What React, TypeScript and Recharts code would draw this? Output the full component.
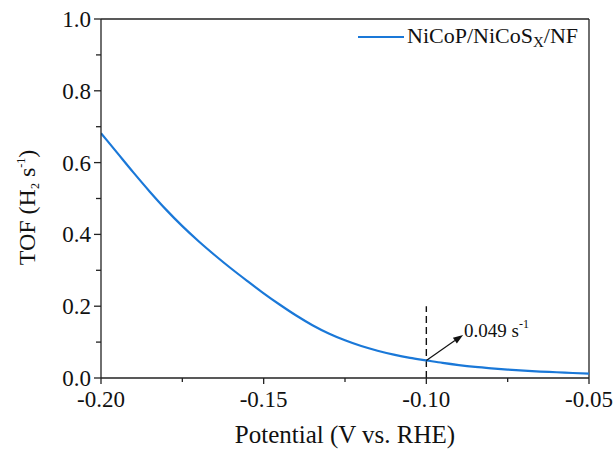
import React from 'react';
import { LineChart, Line, XAxis, YAxis, ReferenceLine, Legend } from 'recharts';

// ---- data ----
const potential = [
  -0.2, -0.195, -0.19, -0.185, -0.18, -0.175, -0.17, -0.165, -0.16, -0.155, -0.15,
  -0.145, -0.14, -0.135, -0.13, -0.125, -0.12, -0.115, -0.11, -0.105, -0.1,
  -0.095, -0.09, -0.085, -0.08, -0.075, -0.07, -0.065, -0.06, -0.055, -0.05,
];
const tof = [
  0.682, 0.627, 0.572, 0.519, 0.469, 0.423, 0.381, 0.342, 0.305, 0.27, 0.236,
  0.204, 0.174, 0.147, 0.124, 0.105, 0.089, 0.076, 0.065, 0.056, 0.049,
  0.042, 0.036, 0.031, 0.027, 0.0235, 0.0205, 0.018, 0.016, 0.014, 0.012,
];
const xTicks = [-0.2, -0.175, -0.15, -0.125, -0.1, -0.075, -0.05];
const xMajor = [-0.2, -0.15, -0.1, -0.05];
const yTicks = [0, 0.1, 0.2, 0.3, 0.4, 0.5, 0.6, 0.7, 0.8, 0.9, 1.0];
const yMajor = [0, 0.2, 0.4, 0.6, 0.8, 1.0];
const seriesName = 'NiCoP/NiCoSX/NF';
const markX = -0.1;
const markY = 0.049;
const markLineTop = 0.2;
const arrowTip = { x: -0.0887, y: 0.12 };
const markLabel = '0.049';

const data = potential.map((x, i) => ({ x, tof: tof[i] }));

const FONT = "'Liberation Serif', 'DejaVu Serif', serif";
const AXIS = '#222';
const BLUE = '#1a78d8';

const isIn = (arr: number[], v: number) => arr.some((m) => Math.abs(m - v) < 1e-9);

const XTick = (props: any) => {
  const { x, y, payload } = props;
  const major = isIn(xMajor, payload.value);
  return (
    <g>
      <line x1={x} x2={x} y1={y} y2={y + (major ? 6 : 4)} stroke={AXIS} strokeWidth={1.3} />
      {major && (
        <text x={x} y={y + 29} textAnchor="middle" style={{ fontFamily: FONT }} fontSize={23} fill="#111">
          {payload.value.toFixed(2)}
        </text>
      )}
    </g>
  );
};

const YTick = (props: any) => {
  const { x, y, payload } = props;
  const major = isIn(yMajor, payload.value);
  return (
    <g>
      <line x1={x} x2={x - (major ? 7 : 5)} y1={y} y2={y} stroke={AXIS} strokeWidth={1.3} />
      {major && (
        <text x={x - 10} y={y + 8} textAnchor="end" style={{ fontFamily: FONT }} fontSize={23} fill="#111">
          {payload.value.toFixed(1)}
        </text>
      )}
    </g>
  );
};

const YLabel = (props: any) => {
  const vb = props.viewBox;
  const cx = vb.x + 35;
  const cy = vb.y + vb.height / 2 + 9;
  return (
    <text
      x={cx}
      y={cy}
      transform={`rotate(-90, ${cx}, ${cy})`}
      textAnchor="middle"
      style={{ fontFamily: FONT }}
      fontSize={24}
      fill="#111"
    >
      <tspan>TOF (H</tspan>
      <tspan fontSize={12} dy={4}>2</tspan>
      <tspan dy={-4}> s</tspan>
      <tspan fontSize={12} dy={-10}>-1</tspan>
      <tspan dy={10}>)</tspan>
    </text>
  );
};

const XLabel = (props: any) => {
  const vb = props.viewBox;
  return (
    <text
      x={vb.x + vb.width / 2}
      y={vb.y + 65}
      textAnchor="middle"
      style={{ fontFamily: FONT }}
      fontSize={25}
      fill="#111"
    >
      Potential (V vs. RHE)
    </text>
  );
};

const ArrowShape = (props: any) => {
  const { x1, y1, x2, y2 } = props;
  const ang = Math.atan2(y2 - y1, x2 - x1);
  const len = 10;
  const hw = 3.5;
  const bx = x2 - len * Math.cos(ang);
  const by = y2 - len * Math.sin(ang);
  const px = -Math.sin(ang) * hw;
  const py = Math.cos(ang) * hw;
  return (
    <g>
      <line x1={x1} y1={y1} x2={bx} y2={by} stroke="#111" strokeWidth={1.2} />
      <polygon points={`${x2},${y2} ${bx + px},${by + py} ${bx - px},${by - py}`} fill="#111" />
      <text x={x2 + 1} y={y2 + 2} style={{ fontFamily: FONT }} fontSize={19} fill="#111">
        <tspan>{markLabel} s</tspan>
        <tspan fontSize={12} dy={-9}>-1</tspan>
      </text>
    </g>
  );
};

const LegendContent = () => (
  <div style={{ display: 'flex', alignItems: 'center', height: 26, lineHeight: '26px', fontFamily: FONT, fontSize: 22, color: '#111', whiteSpace: 'nowrap' }}>
    <svg width={46} height={4} style={{ marginRight: 3 }}>
      <line x1={0} x2={46} y1={2} y2={2} stroke={BLUE} strokeWidth={2.2} />
    </svg>
    <span>
      {seriesName.slice(0, 11)}
      <span style={{ fontSize: 15, position: 'relative', top: 4 }}>{seriesName.slice(11, 12)}</span>
      {seriesName.slice(12)}
    </span>
  </div>
);

export default function App() {
  return (
    <div style={{ position: 'absolute', left: 0, top: 0, background: '#fff', fontFamily: FONT }}>
      <LineChart width={614} height={450} data={data} margin={{ top: 19, right: 25, left: 0, bottom: 0 }}>
        <XAxis
          type="number"
          dataKey="x"
          domain={[-0.2, -0.05]}
          ticks={xTicks}
          interval={0}
          tickSize={0}
          tickMargin={0}
          tickLine={false}
          tick={<XTick />}
          axisLine={{ stroke: AXIS, strokeWidth: 1.3 }}
          height={72}
          allowDataOverflow
          label={<XLabel />}
        />
        <YAxis
          type="number"
          domain={[0, 1]}
          ticks={yTicks}
          interval={0}
          tickSize={0}
          tickMargin={0}
          tickLine={false}
          tick={<YTick />}
          axisLine={{ stroke: AXIS, strokeWidth: 1.3 }}
          width={101}
          allowDataOverflow
          label={<YLabel />}
        />
        <ReferenceLine y={1} stroke={AXIS} strokeWidth={1.3} />
        <ReferenceLine x={-0.05} stroke={AXIS} strokeWidth={1.3} />
        <ReferenceLine
          segment={[{ x: markX, y: 0 }, { x: markX, y: markLineTop }]}
          stroke="#111"
          strokeWidth={1.4}
          strokeDasharray="7 4"
        />
        <Line
          type="monotone"
          dataKey="tof"
          name={seriesName}
          stroke={BLUE}
          strokeWidth={2.2}
          dot={false}
          isAnimationActive={false}
        />
        <ReferenceLine
          segment={[{ x: markX, y: markY }, arrowTip]}
          stroke="#111"
          shape={<ArrowShape />}
        />
        <Legend
          layout="horizontal"
          verticalAlign="middle"
          align="center"
          content={<LegendContent />}
          wrapperStyle={{ top: 24, left: 358, width: 240, height: 26 }}
        />
      </LineChart>
    </div>
  );
}
